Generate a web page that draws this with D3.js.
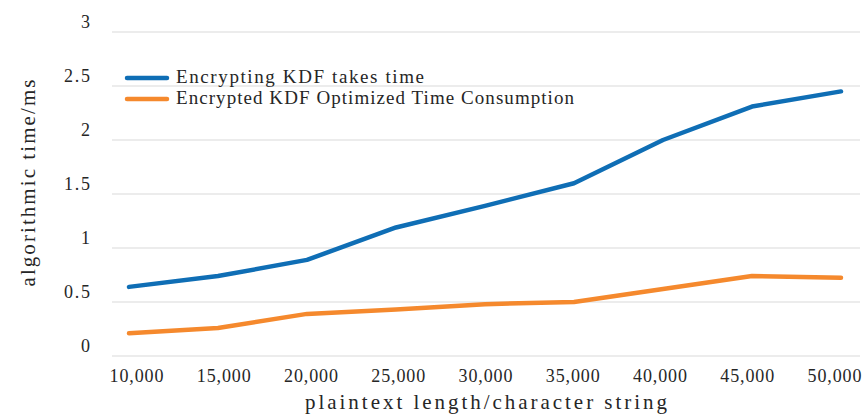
<!DOCTYPE html>
<html><head><meta charset="utf-8">
<script src="https://cdn.jsdelivr.net/npm/d3@7"></script>
<style>body{margin:0;background:#fff}svg{display:block}text{font-family:"Liberation Serif","DejaVu Serif",serif;fill:#262626}</style>
</head><body><svg id="c" width="865" height="414"></svg>
<script>
const categories = ["10,000","15,000","20,000","25,000","30,000","35,000","40,000","45,000","50,000"];
const seriesNames = ["Encrypting KDF takes time","Encrypted KDF Optimized Time Consumption"];
const encrypting = [0.64,0.74,0.89,1.19,1.39,1.60,2.00,2.31,2.45];
const optimized = [0.21,0.26,0.39,0.43,0.48,0.50,0.62,0.74,0.725];
const yTicks = [0,0.5,1,1.5,2,2.5,3];
const colors = ["#0F6EB5","#F5892D"];

const svg = d3.select("#c");
const x = d3.scalePoint().domain(categories).range([129,841]);
const xLab = d3.scalePoint().domain(categories).range([136,834]);
const y = d3.scaleLinear().domain([0,3]).range([356,32]);

// gridlines
svg.append("g").selectAll("line").data(yTicks).join("line")
  .attr("x1",112).attr("x2",860).attr("y1",d=>y(d)).attr("y2",d=>y(d))
  .attr("stroke","#d9d9d9").attr("stroke-width",1);

// y tick labels
svg.append("g").selectAll("text").data(yTicks).join("text")
  .attr("x",90).attr("y",d=>y(d)-8).attr("text-anchor","end").attr("dominant-baseline","middle")
  .style("font-size","18px")
  .each(function(d){ const s=String(d); const t=d3.select(this).text(s); if(s.length>1) t.attr("textLength",26).attr("lengthAdjust","spacing"); });

// x tick labels
const xAxis = svg.append("g").attr("transform","translate(0,376)")
  .call(d3.axisBottom(xLab).tickSize(0).tickPadding(0));
xAxis.select(".domain").remove();
xAxis.selectAll("text").attr("dy","0.35em").attr("y",0).style("font-size","18px")
  .style("font-family","Liberation Serif").attr("fill","#262626")
  .attr("textLength",54).attr("lengthAdjust","spacing");

// lines
const line = d3.line().x((d,i)=>x(categories[i])).y(d=>y(d));
[encrypting,optimized].forEach((s,k)=>{
  svg.append("path").datum(s).attr("d",line).attr("fill","none")
    .attr("stroke",colors[k]).attr("stroke-width",4.5).attr("stroke-linecap","round").attr("stroke-linejoin","round");
});

// legend
const legendLens = [248,398];
seriesNames.forEach((n,k)=>{
  const ly = 78 + k*21;
  svg.append("line").attr("x1",127).attr("x2",167).attr("y1",ly).attr("y2",ly)
    .attr("stroke",colors[k]).attr("stroke-width",4.5).attr("stroke-linecap","round");
  svg.append("text").attr("x",176).attr("y",ly+1).attr("dominant-baseline","middle")
    .style("font-size","19px").attr("textLength",legendLens[k]).attr("lengthAdjust","spacing").text(n);
});

// axis titles
svg.append("text").attr("x",486).attr("y",404).attr("text-anchor","middle").attr("dominant-baseline","middle")
  .style("font-size","21px").attr("textLength",362).attr("lengthAdjust","spacing").text("plaintext length/character string");
svg.append("text").attr("transform","translate(30,183) rotate(-90)").attr("text-anchor","middle").attr("dominant-baseline","middle")
  .style("font-size","21px").attr("textLength",207).attr("lengthAdjust","spacing").text("algorithmic time/ms");
</script></body></html>
